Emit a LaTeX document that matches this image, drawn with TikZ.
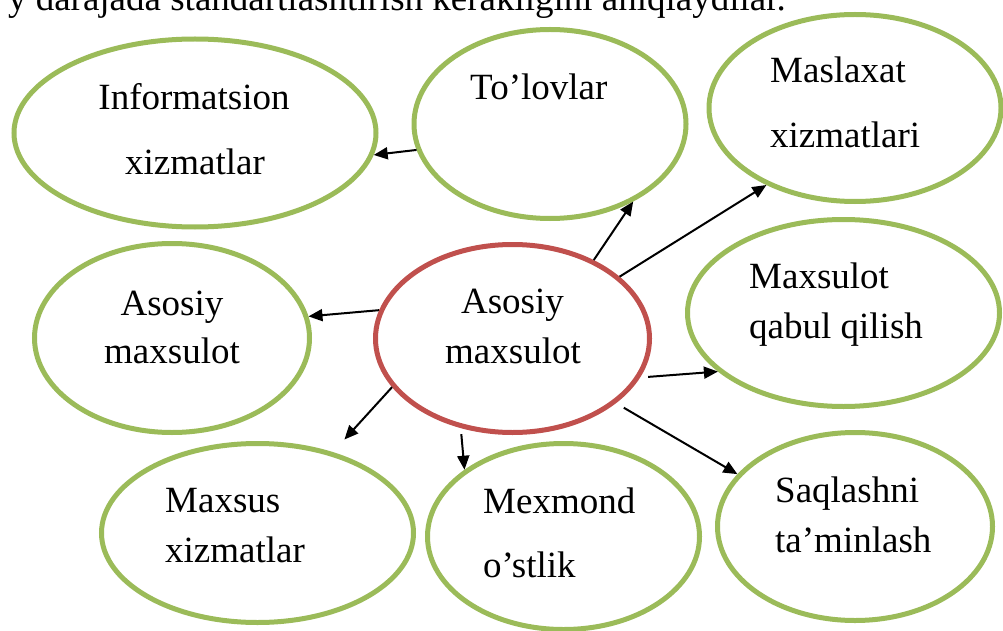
\documentclass[tikz,border=0pt]{standalone}
\usepackage{fontspec}
\setmainfont{Liberation Serif}
\usetikzlibrary{shapes.geometric,arrows.meta}
\definecolor{ovgreen}{RGB}{155,187,89}
\definecolor{hubred}{RGB}{192,80,77}
\newcommand\bigtxt{\fontsize{37}{44}\selectfont}
\tikzset{
  oval/.style={ellipse, draw=ovgreen, line width=5pt, inner sep=0pt},
  hub/.style={ellipse, draw=hubred, line width=5pt, inner sep=0pt},
  lbl/.style={font=\bigtxt, inner sep=0pt},
  arr/.style={-{Triangle[length=14pt,width=12pt]}, line width=2pt}
}
\begin{document}
\begin{tikzpicture}[x=1pt, y=-1pt]
        \useasboundingbox (0,0) rectangle (1003,631);
        % text cut off at the top
        \node[lbl, anchor=base east] (head) at (786,11) {y darajada standartlashtirish kerakligini aniqlaydilar.};

        % ovals
        \node[hub, minimum width=274pt, minimum height=188pt] (cen) at (512.5,338.5) {};
        \node[oval, minimum width=362pt, minimum height=188pt] (info) at (195,133) {};
        \node[oval, minimum width=272pt, minimum height=189pt] (tol) at (550,124) {};
        \node[oval, minimum width=292pt, minimum height=187pt] (masl) at (855,108) {};
        \node[oval, minimum width=275pt, minimum height=189pt] (asl) at (172,338) {};
        \node[oval, minimum width=312pt, minimum height=187pt] (qabul) at (843.5,313) {};
        \node[oval, minimum width=312pt, minimum height=179pt] (maxs) at (257.5,533) {};
        \node[oval, minimum width=272pt, minimum height=186pt] (mexm) at (563.5,536.5) {};
        \node[oval, minimum width=275pt, minimum height=188pt] (saql) at (855,526.5) {};

        % labels
        \node[lbl, anchor=base] (cenA) at (512.5,313) {Asosiy};
        \node[lbl, anchor=base] (cenB) at (513,363) {maxsulot};
        \node[lbl, anchor=base] (infoA) at (194,110) {Informatsion};
        \node[lbl, anchor=base] (infoB) at (195,175) {xizmatlar};
        \node[lbl, anchor=base west] (tolA) at (470,100) {To’lovlar};
        \node[lbl, anchor=base west] (maslA) at (770,83) {Maslaxat};
        \node[lbl, anchor=base west] (maslB) at (770,148) {xizmatlari};
        \node[lbl, anchor=base] (aslA) at (172,315) {Asosiy};
        \node[lbl, anchor=base] (aslB) at (172,363) {maxsulot};
        \node[lbl, anchor=base west] (qabulA) at (749,288) {Maxsulot};
        \node[lbl, anchor=base west] (qabulB) at (749,338) {qabul qilish};
        \node[lbl, anchor=base west] (maxsA) at (165,512) {Maxsus};
        \node[lbl, anchor=base west] (maxsB) at (165,562) {xizmatlar};
        \node[lbl, anchor=base west] (mexmA) at (483,513) {Mexmond};
        \node[lbl, anchor=base west] (mexmB) at (483,577) {o’stlik};
        \node[lbl, anchor=base west] (saqlA) at (775,502) {Saqlashni};
        \node[lbl, anchor=base west] (saqlB) at (775,552) {ta’minlash};

        % arrows
        \draw[arr] (tol.-169.5) -- (info.-7);
        \draw[arr] (cen.44.6) -- (tol.-43.2);
        \draw[arr] (cen.30) -- (masl.-139.6);
        \draw[arr, shorten <=8pt] (cen.-17) -- (qabul.-155.4);
        \draw[arr] (cen.168.5) -- (asl.9.1);
        \draw[arr, shorten >=17pt] (cen.-158.7) -- (maxs.47.4);
        \draw[arr, shorten <=6pt] (cen.-120.9) -- (mexm.146.5);
        \draw[arr, shorten <=9pt] (cen.-32.4) -- (saql.156.3);
\end{tikzpicture}
\end{document}
